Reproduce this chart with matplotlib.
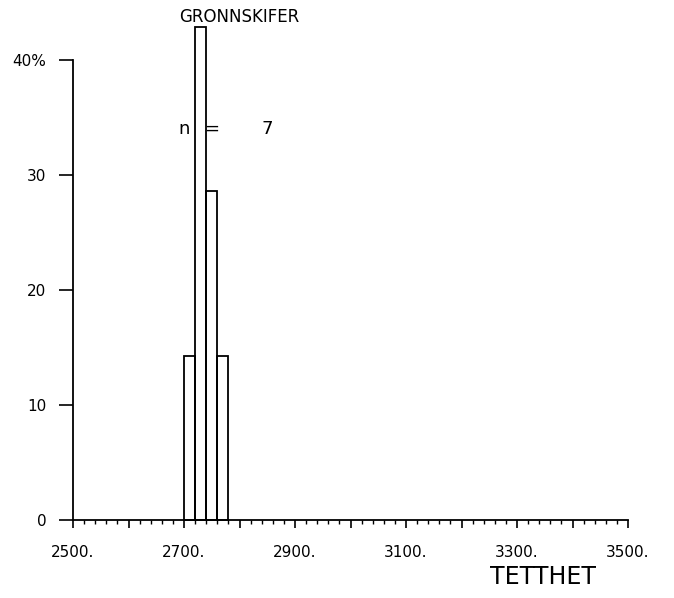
import matplotlib
matplotlib.use("Agg")
import matplotlib.pyplot as plt
import numpy as np

# Data
bin_edges = [2700, 2720, 2740, 2760]
bin_width = 20
percent = [14.29, 42.86, 28.57, 14.29]
n_samples = 7
title = "GRONNSKIFER"
xlabel = "TETTHET"
xticks = [2500, 2600, 2700, 2800, 2900, 3000, 3100, 3200, 3300, 3400, 3500]
xtick_labels = ["2500.", "", "2700.", "", "2900.", "", "3100.", "", "3300.", "", "3500."]
yticks = [0, 10, 20, 30, 40]
ytick_labels = ["0", "10", "20", "30", "40%"]

plt.rcParams['font.family'] = ['DejaVu Sans']
fig = plt.figure(figsize=(6.74, 5.98), dpi=100)
ax = fig.add_axes([73/674, 1-520/598, 555/674, 460/598])

ax.bar(bin_edges, percent, width=bin_width, align='edge', fill=False,
       edgecolor='black', linewidth=1.3, clip_on=False)

ax.set_xlim(2500, 3500)
ax.set_ylim(0, 40)
for s in ['top', 'right']:
    ax.spines[s].set_visible(False)
for s in ['left', 'bottom']:
    ax.spines[s].set_linewidth(1.3)

ax.set_xticks(xticks)
ax.set_xticklabels(xtick_labels, fontsize=11)
ax.set_xticks(np.arange(2500, 3501, 20), minor=True)
ax.tick_params(axis='x', which='major', direction='out', length=6, width=1.2, pad=12)
ax.tick_params(axis='x', which='minor', direction='out', length=3, width=1.0)
ax.set_yticks(yticks)
ax.set_yticklabels(ytick_labels, fontsize=11)
ax.tick_params(axis='y', which='major', direction='out', length=10, width=1.2, pad=9)

ax.text(0.30, 1.075, title, transform=ax.transAxes, fontsize=12, ha='center', va='bottom')
ax.text(2700, 34, "n", fontsize=13, ha='center', va='center')
ax.text(2750, 34, "=", fontsize=13, ha='center', va='center')
ax.text(2850, 34, str(n_samples), fontsize=13, ha='center', va='center')
ax.text(0.847, -0.124, xlabel, transform=ax.transAxes, fontsize=17, ha='center', va='center')

fig.savefig("out.png", dpi=100, facecolor='white')
